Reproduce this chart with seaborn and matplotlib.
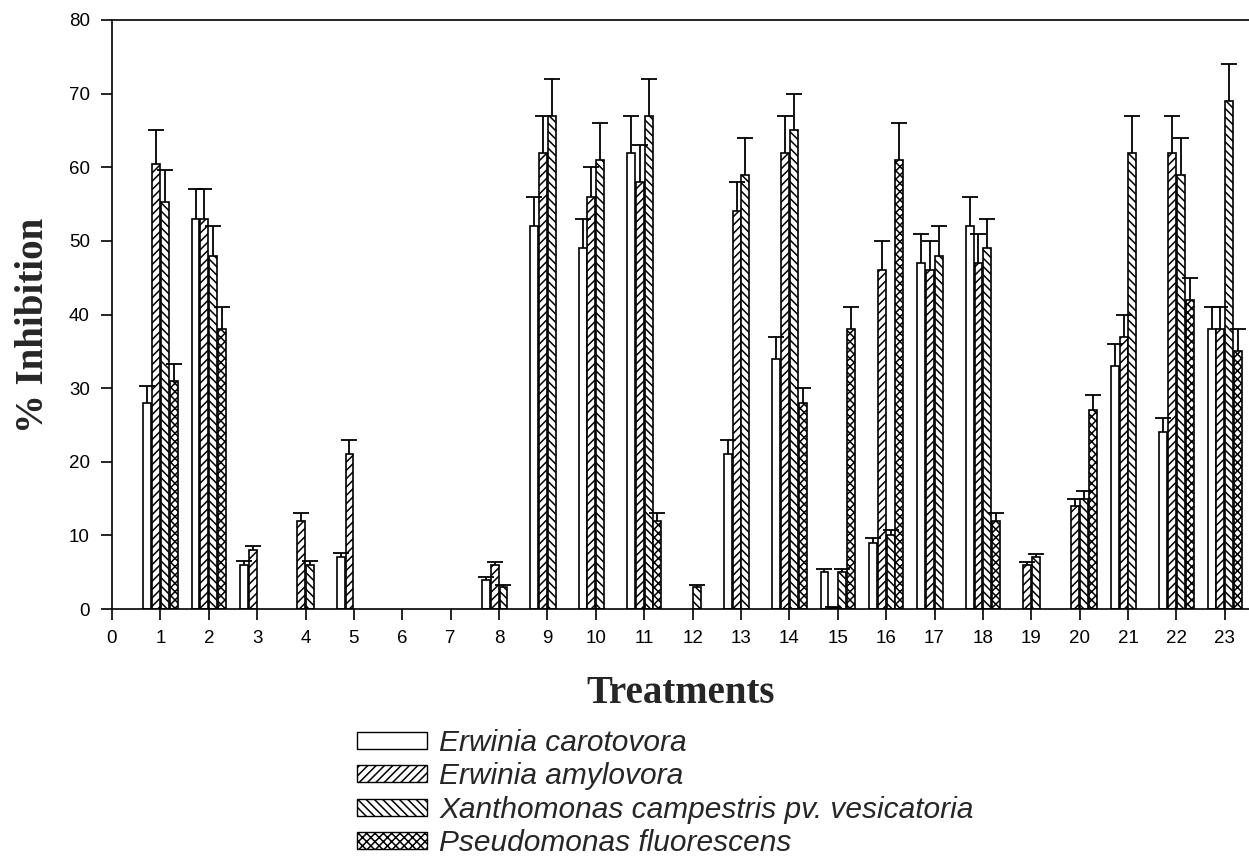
import numpy as np
import pandas as pd
import matplotlib
matplotlib.use("Agg")
import matplotlib.pyplot as plt
import matplotlib.patches as mpatches
import seaborn as sns

treatments = list(range(1, 24))
species = ["Erwinia carotovora", "Erwinia amylovora",
           "Xanthomonas campestris pv. vesicatoria", "Pseudomonas fluorescens"]

ec     = [28, 53, 6, 0, 7, 0, 0, 4, 52, 49, 62, 0, 21, 34, 5, 9, 47, 52, 0, 0, 33, 24, 38]
ec_err = [2.3, 4, 0.5, 0, 0.6, 0, 0, 0.3, 4, 4, 5, 0, 2, 3, 0.4, 0.7, 4, 4, 0, 0, 3, 2, 3]
ea     = [60.5, 53, 8, 12, 21, 0, 0, 6, 62, 56, 58, 0, 54, 62, 0.2, 46, 46, 47, 6, 14, 37, 62, 38]
ea_err = [4.6, 4, 0.6, 1, 2, 0, 0, 0.4, 5, 4, 5, 0, 4, 5, 0.1, 4, 4, 4, 0.4, 1, 3, 5, 3]
xc     = [55.3, 48, 0, 6, 0, 0, 0, 3, 67, 61, 67, 3, 59, 65, 5, 10, 48, 49, 7, 15, 62, 59, 69]
xc_err = [4.3, 4, 0, 0.5, 0, 0, 0, 0.2, 5, 5, 5, 0.2, 5, 5, 0.4, 0.7, 4, 4, 0.5, 1, 5, 5, 5]
pf     = [31, 38, 0, 0, 0, 0, 0, 0, 0, 0, 12, 0, 0, 28, 38, 61, 0, 12, 0, 27, 0, 42, 35]
pf_err = [2.3, 3, 0, 0, 0, 0, 0, 0, 0, 0, 1, 0, 0, 2, 3, 5, 0, 1, 0, 2, 0, 3, 3]

x_ticks = list(range(0, 24))
y_ticks = [0, 10, 20, 30, 40, 50, 60, 70, 80]
hatches = ["", "////", "\\\\\\\\", "xxxx"]

values = [ec, ea, xc, pf]
errors = [ec_err, ea_err, xc_err, pf_err]

rows = []
for sp, vals, errs in zip(species, values, errors):
    for t, v, e in zip(treatments, vals, errs):
        if v > 0:
            rows.append({"treatment": t, "species": sp, "value": v, "err": e})
df = pd.DataFrame(rows)
err_lookup = {(r.species, r.treatment): r.err for r in df.itertuples()}

sns.set_style("ticks")
plt.rcParams["font.family"] = ["Liberation Sans", "DejaVu Sans"]
plt.rcParams["hatch.linewidth"] = 1.1

fig = plt.figure(figsize=(12.49, 8.56), dpi=100)
ax = fig.add_axes([112 / 1249, 1 - 609 / 856, 1 - 112 / 1249, (609 - 20) / 856])

sns.barplot(data=df, x="treatment", y="value", hue="species", hue_order=species,
            native_scale=True, width=0.73, gap=0.1,
            palette={sp: "white" for sp in species}, edgecolor="black",
            linewidth=1.2, errorbar=None, legend=False, ax=ax, zorder=2)

for i, sp in enumerate(species):
    cont = ax.containers[i]
    xs, ys, es = [], [], []
    for bar in cont:
        bar.set_hatch(hatches[i])
        bar.set_edgecolor("black")
        xc_ = bar.get_x() + bar.get_width() / 2
        t = int(round(xc_))
        xs.append(xc_)
        ys.append(bar.get_height())
        es.append(err_lookup[(sp, t)])
    xs = np.array(xs); ys = np.array(ys); es = np.array(es)
    eb = ax.errorbar(xs, ys, yerr=[np.zeros_like(es), es], fmt="none",
                     ecolor="black", elinewidth=1.3, capsize=6, capthick=1.3, zorder=3)
    for cl in eb[1]:
        if np.allclose(cl.get_ydata(), ys):
            cl.set_visible(False)

ax.set_xlim(0, 23.5)
ax.set_ylim(0, 80)
ax.set_xticks(x_ticks)
ax.set_xticklabels([str(v) for v in x_ticks])
ax.set_yticks(y_ticks)
ax.set_yticklabels([str(v) for v in y_ticks])
ax.tick_params(axis="both", direction="out", length=8, width=1.2, labelsize=13.5, colors="black")
ax.tick_params(axis="x", pad=7)
ax.tick_params(axis="y", pad=8)
for s in ["left", "bottom", "top"]:
    ax.spines[s].set_visible(True)
    ax.spines[s].set_linewidth(1.2)
    ax.spines[s].set_color("black")
ax.spines["right"].set_visible(False)

ax.set_xlabel("Treatments", family=["Liberation Serif"], fontweight="bold", fontsize=28, labelpad=20)
ax.set_ylabel("% Inhibition", family=["Liberation Serif"], fontweight="bold", fontsize=28)
ax.yaxis.set_label_coords(-0.053, 0.482)

handles = [mpatches.Patch(facecolor="white", edgecolor="black", hatch=h, linewidth=1.0, label=sp)
           for sp, h in zip(species, hatches)]
fig.legend(handles=handles, loc="upper left", bbox_to_anchor=(357 / 1249, 1 - 729 / 856),
           frameon=False, prop={"family": "Liberation Sans", "style": "italic", "size": 21.5},
           handlelength=2.35, handleheight=0.5, handletextpad=0.4, labelspacing=0.18,
           borderaxespad=0, borderpad=0)

fig.savefig("out.png", dpi=100)
